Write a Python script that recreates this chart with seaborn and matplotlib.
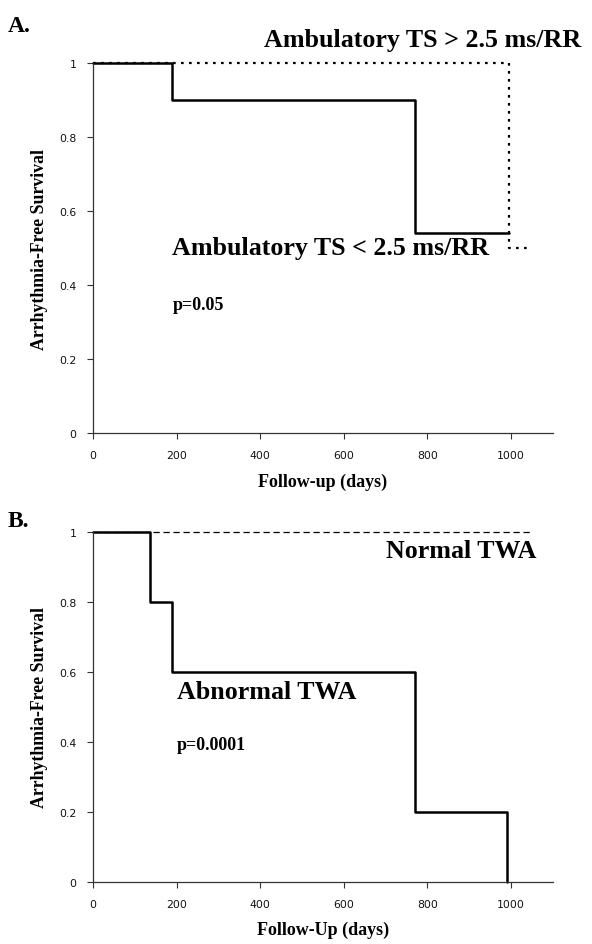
import matplotlib
matplotlib.use('Agg')
import matplotlib.pyplot as plt
import seaborn as sns

# panel A: ambulatory TS
a_low_days = [0, 189, 770, 995]
a_low_surv = [1.0, 0.9, 0.54, 0.54]
a_high_days = [0, 995, 1050]
a_high_surv = [1.0, 0.5, 0.5]

# panel B: TWA
b_abn_days = [0, 137, 189, 770, 990]
b_abn_surv = [1.0, 0.8, 0.6, 0.2, 0.0]
b_norm_days = [0, 1050]
b_norm_surv = [1.0, 1.0]

x_ticks = [0, 200, 400, 600, 800, 1000]
y_ticks = [0, 0.2, 0.4, 0.6, 0.8, 1]
y_tick_labels = ['0', '0.2', '0.4', '0.6', '0.8', '1']

sns.set_style('ticks')
plt.rcParams['font.family'] = ['Liberation Serif', 'DejaVu Serif']

fig = plt.figure(figsize=(5.92, 9.45), dpi=100)
axA = fig.add_axes([0.157, 0.5407, 0.777, 0.3915])
axB = fig.add_axes([0.157, 0.0656, 0.777, 0.3704])

serif = dict(family='Liberation Serif', weight='bold', color='black')


def style_axes(ax, xlabel):
    ax.set_xlim(0, 1100)
    ax.set_ylim(0, 1)
    ax.set_xticks(x_ticks)
    ax.set_xticklabels([str(t) for t in x_ticks], family='DejaVu Sans', fontsize=7.8, color='#111111')
    ax.set_yticks(y_ticks)
    ax.set_yticklabels(y_tick_labels, family='DejaVu Sans', fontsize=7.8, color='#111111')
    ax.tick_params(length=4, width=0.8, color='#333333', pad=8)
    sns.despine(ax=ax)
    for s in ['left', 'bottom']:
        ax.spines[s].set_linewidth(0.9)
        ax.spines[s].set_color('#333333')
    ax.set_ylabel('Arrhythmia-Free Survival', fontsize=12.8, labelpad=8, **serif)
    ax.set_xlabel(xlabel, fontsize=13, labelpad=9, **serif)


sns.lineplot(x=a_low_days, y=a_low_surv, ax=axA, drawstyle='steps-post', color='black', lw=1.8, clip_on=False)
sns.lineplot(x=a_high_days, y=a_high_surv, ax=axA, drawstyle='steps-post', color='black', lw=1.6,
             linestyle=(0, (1.2, 2.4)), clip_on=False)
style_axes(axA, 'Follow-up (days)')
axA.text(410, 1.046, 'Ambulatory TS > 2.5 ms/RR', fontsize=18.7, va='baseline', **serif)
axA.text(188, 0.484, 'Ambulatory TS < 2.5 ms/RR', fontsize=18.7, va='baseline', **serif)
axA.text(190, 0.335, 'p=0.05', fontsize=13, va='baseline', **serif)

sns.lineplot(x=b_abn_days, y=b_abn_surv, ax=axB, drawstyle='steps-post', color='black', lw=1.8, clip_on=False)
sns.lineplot(x=b_norm_days, y=b_norm_surv, ax=axB, color='black', lw=0.9,
             linestyle=(0, (5, 3)), clip_on=False)
style_axes(axB, 'Follow-Up (days)')
axB.text(700, 0.929, 'Normal TWA', fontsize=18.7, va='baseline', **serif)
axB.text(200, 0.526, 'Abnormal TWA', fontsize=18.7, va='baseline', **serif)
axB.text(200, 0.38, 'p=0.0001', fontsize=13, va='baseline', **serif)

fig.text(8 / 592, 1 - 32 / 945, 'A.', fontsize=17, va='baseline', **serif)
fig.text(8 / 592, 1 - 527 / 945, 'B.', fontsize=17, va='baseline', **serif)

fig.savefig('out.png', dpi=100)
